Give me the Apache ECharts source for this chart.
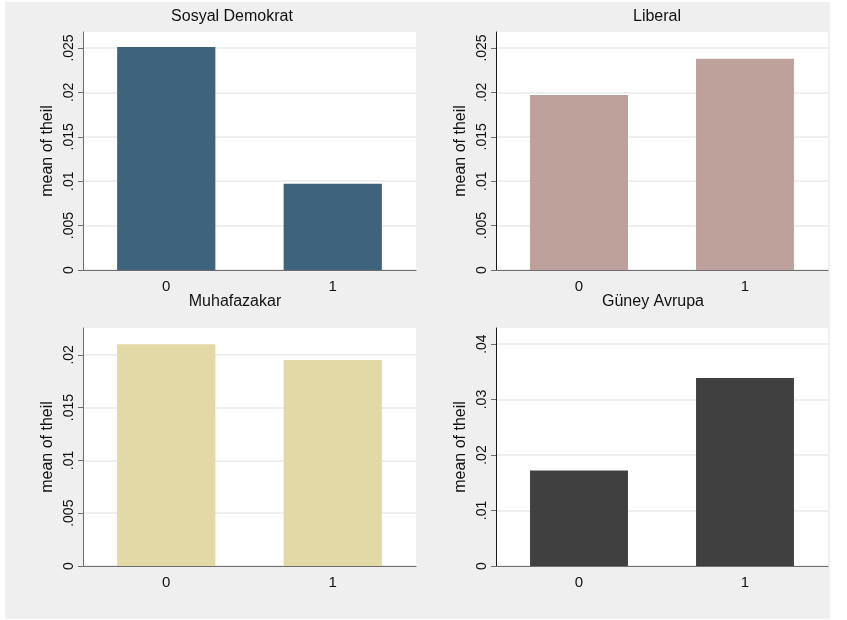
<!DOCTYPE html>
<html>
<head>
<meta charset="utf-8">
<script src="https://cdn.jsdelivr.net/npm/echarts@6/dist/echarts.min.js"></script>
<style>
  html, body { margin: 0; padding: 0; background: #ffffff; }
  #wrap { position: relative; width: 847px; height: 620px; background: #ffffff; }
  #chart { position: absolute; left: 5px; top: 2px; width: 825px; height: 617px; }
</style>
</head>
<body>
<div id="wrap"><div id="chart"></div></div>
<script>
// ---- data ----
const categories = ['0', '1'];
const panelTitles = ['Sosyal Demokrat', 'Liberal', 'Muhafazakar', 'Güney Avrupa'];
const sosyalDemokrat = [0.0251, 0.0097];
const liberal = [0.0197, 0.0238];
const muhafazakar = [0.0210, 0.0195];
const guneyAvrupa = [0.0172, 0.0339];
const ticksTop = [0, 0.005, 0.01, 0.015, 0.02, 0.025];
const ticksBottomLeft = [0, 0.005, 0.01, 0.015, 0.02];
const ticksBottomRight = [0, 0.01, 0.02, 0.03, 0.04];
const axisMax = [0.0268, 0.0268, 0.02254, 0.0429];
const yTitle = 'mean of theil';

// ---- styling / layout ----
const FONT = 'Liberation Sans, Arial, Helvetica, sans-serif';
const colors = ['#3e647d', '#bfa19b', '#e3d9a6', '#404040'];
const seriesData = [sosyalDemokrat, liberal, muhafazakar, guneyAvrupa];
const tickSets = [ticksTop, ticksTop, ticksBottomLeft, ticksBottomRight];
const grids = [
  { left: 78, top: 30, width: 333, height: 238 },
  { left: 491, top: 30, width: 332, height: 238 },
  { left: 78, top: 326, width: 333, height: 238 },
  { left: 491, top: 326, width: 332, height: 238 }
];
const titlePos = [
  { left: 227, top: 7 },
  { left: 652, top: 7 },
  { left: 230, top: 292 },
  { left: 648, top: 292 }
];
const yAxisLineColor = ['#6e6e6e', '#1a1a1a', '#6e6e6e', '#1a1a1a'];

function fmt(v) {
  if (v === 0) return '0';
  const s = String(+v.toFixed(4));
  return s.replace(/^0\./, '.');
}

const option = {
  backgroundColor: '#efefef',
  animation: false,
  title: panelTitles.map((t, i) => ({
    text: t,
    left: titlePos[i].left,
    top: titlePos[i].top,
    textAlign: 'center',
    padding: 0,
    textStyle: { fontFamily: FONT, fontSize: 16, fontWeight: 'normal', color: '#111' }
  })),
  grid: grids.map(g => Object.assign({ show: true, backgroundColor: '#ffffff', borderWidth: 0 }, g)),
  xAxis: grids.map((g, i) => ({
    type: 'category',
    gridIndex: i,
    data: categories,
    axisLine: { show: true, lineStyle: { color: '#6e6e6e', width: 1 } },
    axisTick: { show: false },
    axisLabel: { fontFamily: FONT, fontSize: 15, color: '#111', margin: 9 },
    splitLine: { show: false }
  })),
  yAxis: grids.map((g, i) => ({
    type: 'value',
    gridIndex: i,
    min: 0,
    max: axisMax[i],
    name: yTitle,
    nameLocation: 'middle',
    nameGap: 27,
    nameTextStyle: { fontFamily: FONT, fontSize: 16, color: '#111' },
    axisLine: { show: true, lineStyle: { color: yAxisLineColor[i], width: 1 } },
    axisTick: { show: true, length: 5, customValues: tickSets[i], lineStyle: { color: '#6e6e6e' } },
    axisLabel: {
      customValues: tickSets[i],
      rotate: 90,
      margin: 7,
      fontFamily: FONT,
      fontSize: 14,
      color: '#111',
      formatter: fmt
    },
    splitLine: { show: true, lineStyle: { color: '#e8e8e8', width: 1.5 } }
  })),
  series: seriesData.map((d, i) => ({
    type: 'bar',
    xAxisIndex: i,
    yAxisIndex: i,
    data: d,
    barCategoryGap: '41%',
    itemStyle: { color: colors[i] },
    silent: true
  }))
};

const chart = echarts.init(document.getElementById('chart'), null, { renderer: 'canvas' });
chart.setOption(option);
</script>
</body>
</html>
